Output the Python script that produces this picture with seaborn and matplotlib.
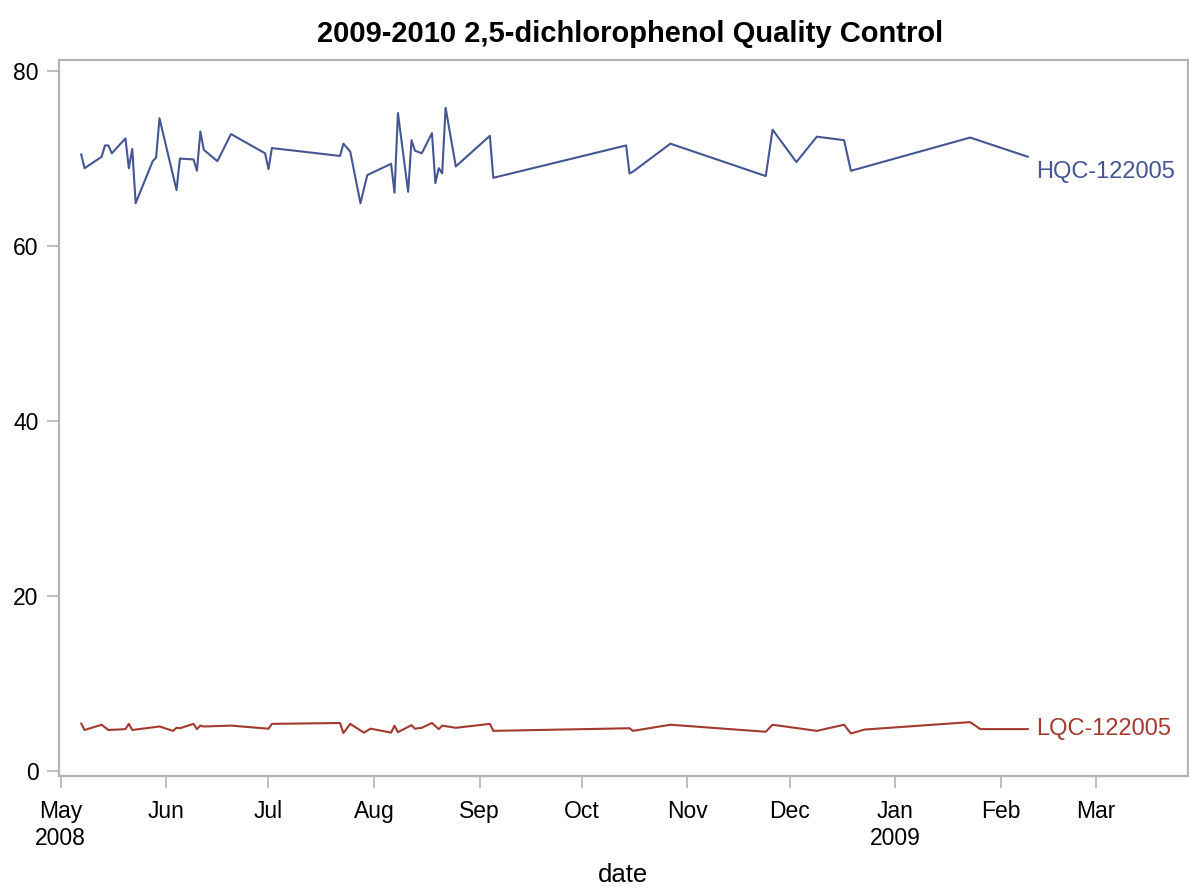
import pandas as pd
import matplotlib
matplotlib.use("Agg")
import matplotlib.pyplot as plt
import seaborn as sns

# ==============================
# Data
# ==============================
hqc_dates = ["2008-05-07", "2008-05-08", "2008-05-13", "2008-05-14", "2008-05-15",
             "2008-05-16", "2008-05-20", "2008-05-21", "2008-05-22", "2008-05-23",
             "2008-05-28", "2008-05-29", "2008-05-30", "2008-06-04", "2008-06-05",
             "2008-06-09", "2008-06-10", "2008-06-11", "2008-06-12", "2008-06-16",
             "2008-06-20", "2008-06-30", "2008-07-01", "2008-07-02", "2008-07-22",
             "2008-07-23", "2008-07-25", "2008-07-28", "2008-07-30", "2008-07-31",
             "2008-08-06", "2008-08-07", "2008-08-08", "2008-08-11", "2008-08-12",
             "2008-08-13", "2008-08-15", "2008-08-18", "2008-08-19", "2008-08-20",
             "2008-08-21", "2008-08-22", "2008-08-25", "2008-09-04", "2008-09-05",
             "2008-10-14", "2008-10-15", "2008-10-16", "2008-10-27", "2008-11-24",
             "2008-11-26", "2008-12-03", "2008-12-09", "2008-12-17", "2008-12-19",
             "2009-01-23", "2009-02-09"]
hqc_values = [70.5, 68.9, 70.2, 71.5, 71.5,
              70.6, 72.3, 68.9, 71.1, 64.9,
              69.7, 70.1, 74.6, 66.4, 70.0,
              69.9, 68.6, 73.1, 71.0, 69.7,
              72.8, 70.6, 68.8, 71.2, 70.3,
              71.7, 70.8, 64.9, 68.1, 68.3,
              69.4, 66.1, 75.2, 66.2, 72.1,
              70.9, 70.6, 72.9, 67.2, 68.9,
              68.3, 75.8, 69.1, 72.6, 67.8,
              71.5, 68.3, 68.5, 71.7, 68.0,
              73.3, 69.6, 72.5, 72.1, 68.6,
              72.4, 70.2]

lqc_dates = ["2008-05-07", "2008-05-08", "2008-05-13", "2008-05-15", "2008-05-20",
             "2008-05-21", "2008-05-22", "2008-05-30", "2008-06-03", "2008-06-04",
             "2008-06-05", "2008-06-09", "2008-06-10", "2008-06-11", "2008-06-12",
             "2008-06-20", "2008-07-01", "2008-07-02", "2008-07-22", "2008-07-23",
             "2008-07-25", "2008-07-29", "2008-07-31", "2008-08-06", "2008-08-07",
             "2008-08-08", "2008-08-12", "2008-08-13", "2008-08-15", "2008-08-18",
             "2008-08-20", "2008-08-21", "2008-08-25", "2008-09-04", "2008-09-05",
             "2008-10-15", "2008-10-16", "2008-10-27", "2008-11-24", "2008-11-26",
             "2008-12-09", "2008-12-17", "2008-12-19", "2008-12-23", "2009-01-23",
             "2009-01-26", "2009-02-09"]
lqc_values = [5.45, 4.7, 5.3, 4.7, 4.8,
              5.4, 4.7, 5.1, 4.6, 4.95,
              4.9, 5.4, 4.8, 5.2, 5.1,
              5.2, 4.85, 5.4, 5.5, 4.35,
              5.4, 4.4, 4.85, 4.4, 5.2,
              4.45, 5.25, 4.85, 4.95, 5.5,
              4.8, 5.2, 4.95, 5.4, 4.6,
              4.9, 4.6, 5.3, 4.5, 5.3,
              4.6, 5.3, 4.3, 4.75, 5.6,
              4.8, 4.8]

series_names = ["HQC-122005", "LQC-122005"]
series_colors = ["#445694", "#A23A2E"]

month_ticks = pd.date_range("2008-05-01", "2009-03-01", freq="MS")
month_labels = ["May\n2008", "Jun", "Jul", "Aug", "Sep", "Oct", "Nov", "Dec",
                "Jan\n2009", "Feb", "Mar"]
y_ticks = [0, 20, 40, 60, 80]

# ==============================
# Build long table
# ==============================
df = pd.concat([
    pd.DataFrame({"date": pd.to_datetime(hqc_dates), "value": hqc_values, "sample": series_names[0]}),
    pd.DataFrame({"date": pd.to_datetime(lqc_dates), "value": lqc_values, "sample": series_names[1]}),
], ignore_index=True)

# ==============================
# Plot
# ==============================
sns.set_style("white")
plt.rcParams["font.family"] = ["Liberation Sans", "DejaVu Sans"]
plt.rcParams["text.color"] = "black"
plt.rcParams["xtick.labelcolor"] = "black"
plt.rcParams["ytick.labelcolor"] = "black"
plt.rcParams["axes.labelcolor"] = "black"

fig = plt.figure(figsize=(11.89, 8.88), dpi=100)
ax = fig.add_axes([0.0494, 0.126, 0.9496, 0.8064])

sns.lineplot(data=df, x="date", y="value", hue="sample", palette=series_colors,
             estimator=None, linewidth=1.5, legend=False, ax=ax)

# curve labels at the end of each line
for name, color in zip(series_names, series_colors):
    last = df[df["sample"] == name].iloc[-1]
    dy = -15 if name.startswith("HQC") else 0
    ax.annotate(name, xy=(last["date"], last["value"]), xytext=(8, dy),
                textcoords="offset pixels", color=color, fontsize=17,
                ha="left", va="center")

ax.set_xlim(pd.Timestamp("2008-04-30 10:00"), pd.Timestamp("2009-03-27 22:00"))
ax.set_ylim(-0.57, 81.26)
ax.set_xticks(month_ticks)
ax.set_xticklabels(month_labels)
ax.set_yticks(y_ticks)

for s in ax.spines.values():
    s.set_color("#b4b4b4")
    s.set_linewidth(1.6)
ax.tick_params(axis="both", which="major", length=8.5, width=1.2, color="#b4b4b4",
               labelsize=16.5, direction="out")
ax.tick_params(axis="x", pad=9)
ax.tick_params(axis="y", pad=6)
ax.tick_params(left=True, bottom=True)

ax.set_xlabel("date", fontsize=18.5, labelpad=9.5)
ax.set_ylabel("")
ax.set_title("2009-2010 2,5-dichlorophenol Quality Control", fontsize=21,
             fontweight="bold", pad=13, x=0.506)

plt.savefig("out.png", dpi=100)
